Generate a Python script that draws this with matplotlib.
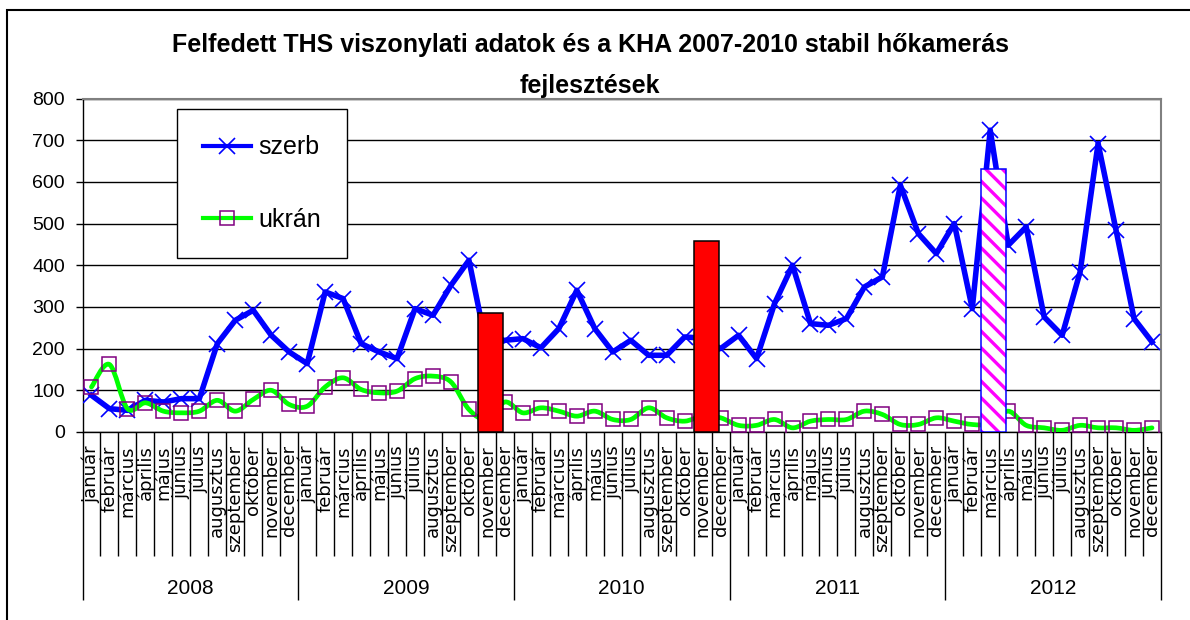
import numpy as np
import matplotlib
matplotlib.use("Agg")
import matplotlib.pyplot as plt
from matplotlib.path import Path
from matplotlib.patches import PathPatch, Rectangle
from matplotlib.lines import Line2D

plt.rcParams["font.family"] = ["Liberation Sans", "DejaVu Sans"]
plt.rcParams["hatch.linewidth"] = 2.4

# ── adatok ──
years = ["2008", "2009", "2010", "2011", "2012"]
months = ["január", "február", "március", "április", "május", "június",
          "július", "augusztus", "szeptember", "október", "november", "december"]

szerb = [88, 56, 52, 76, 72, 80, 80, 212, 268, 292, 232, 192,
         164, 336, 320, 212, 192, 176, 296, 280, 352, 412, 200, 220,
         224, 202, 248, 340, 248, 192, 220, 184, 184, 228, 225, 200,
         232, 176, 308, 400, 260, 256, 272, 348, 372, 592, 476, 428,
         500, 296, 724, 448, 492, 276, 232, 384, 692, 484, 272, 216]

ukran = [108, 162, 56, 70, 50, 46, 50, 76, 50, 78, 100, 66,
         62, 108, 130, 102, 94, 98, 128, 134, 120, 54, 30, 72,
         46, 58, 50, 38, 50, 30, 30, 58, 34, 26, 38, 34,
         16, 16, 30, 10, 26, 30, 30, 50, 42, 18, 18, 34,
         26, 18, 20, 50, 16, 10, 4, 16, 10, 10, 4, 10]

# hőkamerás fejlesztések (oszlopok)
red_bar_months = [("2009", "november"), ("2010", "november")]
red_bar_values = [286, 458]
pink_bar_months = [("2012", "március")]
pink_bar_values = [630]


def month_pos(year, month):
    return years.index(year) * 12 + months.index(month)


def smooth_path(xs, ys):
    # Excel-szerű simított vonal (Bezier)
    pts = np.column_stack([xs, ys]).astype(float)
    n = len(pts)
    verts = [pts[0]]
    codes = [Path.MOVETO]
    for i in range(n - 1):
        p0 = pts[max(i - 1, 0)]
        p1 = pts[i]
        p2 = pts[i + 1]
        p3 = pts[min(i + 2, n - 1)]
        verts += [p1 + (p2 - p0) / 6, p2 - (p3 - p1) / 6, p2]
        codes += [Path.CURVE4] * 3
    return Path(verts, codes)


W, H = 1190, 620
fig = plt.figure(figsize=(W / 100, H / 100), dpi=100)
ax = fig.add_axes([82.5 / W, 1 - 432 / H, (1161 - 82.5) / W, (432 - 98.5) / H])

x = np.arange(len(szerb))

# szerb
ax.plot(x, szerb, color="#0000FF", lw=4, marker="x", ms=12, mew=1.2,
        solid_joinstyle="round", zorder=3)

# ukrán
ax.add_patch(PathPatch(smooth_path(x, ukran), facecolor="none", edgecolor="#00FF00",
                       lw=3.4, capstyle="round", joinstyle="round", zorder=3.2))
ax.plot(x, ukran, ls="none", marker="s", ms=10.5, mfc="none", mec="#800080",
        mew=1.1, zorder=3.3)

# oszlopok
bar_shift, bar_w = 0.2, 1.4
red_x = [month_pos(y, m) + bar_shift for y, m in red_bar_months]
ax.bar(red_x, red_bar_values, width=bar_w, color="#FF0000", edgecolor="black",
       lw=1.1, zorder=4)
pink_x = [month_pos(y, m) + bar_shift for y, m in pink_bar_months]
ax.bar(pink_x, pink_bar_values, width=bar_w, color="white", edgecolor="#FF00FF",
       hatch="\\\\", lw=0, zorder=4)
ax.bar(pink_x, pink_bar_values, width=bar_w, fill=False, edgecolor="#0000FF",
       lw=1.1, zorder=4.1)

# tengelyek
ax.set_xlim(-0.5, len(szerb) - 0.5)
ax.set_ylim(0, 800)
ax.set_yticks(range(0, 801, 100))
ax.tick_params(axis="y", direction="out", length=4.7, width=1, pad=8, labelsize=14)
ax.yaxis.grid(True, color="black", lw=1)
ax.set_axisbelow(True)

ax.set_xticks(np.arange(-0.5, len(szerb), 12))
ax.set_xticks(np.arange(-0.5, len(szerb), 1), minor=True)
ax.tick_params(axis="x", which="major", direction="out", length=121, width=1,
               labelbottom=False)
ax.tick_params(axis="x", which="minor", direction="out", length=89, width=1,
               labelbottom=False)

for side in ("top", "right"):
    ax.spines[side].set_color("#808080")
    ax.spines[side].set_linewidth(1.5)
for side in ("left", "bottom"):
    ax.spines[side].set_color("black")
    ax.spines[side].set_linewidth(1)

trans = ax.get_xaxis_transform()
for i in range(len(szerb)):
    ax.text(i, -0.04, months[i % 12], rotation=90, ha="center", va="top",
            transform=trans, fontsize=13, family=["DejaVu Sans"])
for k, yr in enumerate(years):
    ax.text(12 * k + 5.5, -0.468, yr, ha="center", va="center",
            transform=trans, fontsize=15)

# jelmagyarázat
handles = [
    Line2D([], [], color="#0000FF", lw=3, marker="x", ms=12, mew=1.2),
    Line2D([], [], color="#00FF00", lw=3, marker="s", ms=10.5, mfc="none",
           mec="#800080", mew=1.1),
]
leg = ax.legend(handles, ["szerb", "ukrán"], loc="upper left",
                bbox_to_anchor=(177 / W, 1 - 109 / H), bbox_transform=fig.transFigure,
                fontsize=18, numpoints=1, handlelength=1.9, handletextpad=0.3,
                labelspacing=1.95, borderpad=1.05, borderaxespad=0,
                fancybox=False, shadow=False, framealpha=1)
leg.get_frame().set_edgecolor("black")
leg.get_frame().set_linewidth(1)
leg.set_zorder(5)

# cím
fig.text(0.496, 1 - 45 / H, "Felfedett THS viszonylati adatok és a KHA 2007-2010 stabil hőkamerás",
         ha="center", va="center", fontsize=18, fontweight="bold")
fig.text(0.496, 1 - 86 / H, "fejlesztések",
         ha="center", va="center", fontsize=18, fontweight="bold")

# külső keret
fig.add_artist(Rectangle((7 / W, -0.1), 1.2, 1.1 - 10 / H, fill=False,
                         edgecolor="black", lw=1.5, transform=fig.transFigure))

fig.savefig("out.png", dpi=100)
